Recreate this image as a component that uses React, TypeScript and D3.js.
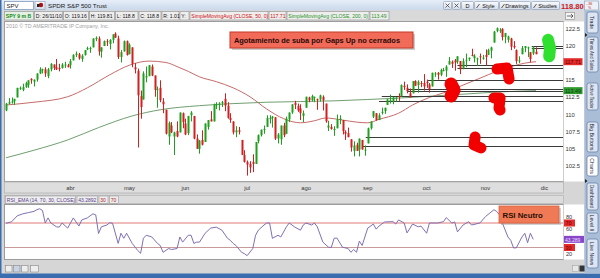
import React, { useEffect } from 'react';
import * as d3 from 'd3';

// ---------- DATA (SPY daily, Mar 1 2010 .. Nov 26 2010) ----------
const opens = [
  110.6,111.6,111.9,111.9,112.5,113.9,113.6,114.0,114.3,115.2,114.8,115.1,116.0,116.6,116.6,115.6,116.6,117.3,116.9,116.8,116.8,117.3,117.2,
  117.2,117.9,118.7,118.8,118.1,118.7,119.5,119.6,119.8,121.0,121.1,119.2,120.0,120.7,120.3,120.9,121.8,121.1,118.4,119.2,120.7,
  118.8,119.8,116.9,116.4,112.7,112.2,115.4,115.6,117.0,115.7,113.6,113.9,111.9,110.7,106.8,108.4,106.8,107.6,107.4,110.2,
  108.7,107.3,109.9,109.8,106.5,105.0,106.3,106.0,108.2,109.3,109.0,111.4,111.5,111.7,112.3,111.3,109.5,109.0,107.4,107.7,106.3,104.1,
  103.1,102.8,103.1,102.8,106.1,107.0,107.8,108.2,109.5,109.5,109.6,106.5,106.4,108.4,107.2,109.3,110.3,111.7,111.3,110.9,109.8,
  111.0,112.5,112.1,112.5,112.3,112.2,112.6,111.6,108.1,108.2,107.9,108.0,109.2,109.2,107.5,107.3,106.4,104.7,105.6,104.9,106.3,104.8,
  105.8,108.0,109.7,110.2,109.2,110.4,110.5,111.4,112.1,111.9,112.4,112.7,112.7,114.2,113.9,113.1,113.1,114.9,114.3,114.6,114.6,
  114.8,114.4,114.1,116.0,116.1,115.8,116.5,116.4,117.3,117.7,117.9,117.7,117.8,116.7,118.0,118.1,118.7,118.2,118.2,118.5,118.2,
  118.7,118.7,119.3,120.5,122.2,122.2,122.5,121.3,120.9,121.1,120.0,119.4,117.8,118.8,119.7,119.7,119.1,118.9,119.16,
];
const highs = [
  111.7,112.4,112.5,112.3,113.9,114.1,114.5,114.8,115.0,115.3,115.1,116.0,116.9,116.7,116.9,116.8,117.5,117.3,118.1,117.4,117.5,117.7,117.4,
  118.1,118.8,119.2,119.0,118.8,119.4,119.9,119.9,121.1,121.4,121.4,119.8,120.8,121.0,121.0,121.7,122.0,121.5,119.4,120.8,120.8,
  120.4,119.8,117.5,116.7,113.5,116.3,117.0,117.2,117.3,115.7,114.1,115.0,112.4,110.7,109.0,108.9,107.5,109.0,110.3,110.3,
  109.4,109.8,110.5,109.8,107.1,106.3,107.7,108.7,109.2,110.5,111.6,111.8,111.8,112.0,113.1,111.8,110.2,109.0,108.3,108.2,106.3,104.8,
  103.3,103.2,104.2,106.0,107.1,107.8,108.4,109.9,109.9,109.8,109.6,107.3,108.4,108.8,109.7,110.3,111.5,112.0,111.6,111.5,110.6,
  112.6,112.6,112.9,112.6,112.3,112.9,112.8,111.6,109.1,108.6,108.3,110.0,109.9,109.2,107.7,108.1,106.4,106.1,105.9,106.5,106.3,105.5,
  108.1,109.0,110.5,110.2,110.2,111.0,111.0,112.3,112.9,112.6,112.5,113.1,114.4,114.8,114.4,113.8,114.9,115.0,115.0,114.9,115.9,
  115.1,114.6,116.1,116.2,116.2,116.7,116.8,117.2,118.4,117.9,118.1,118.5,117.8,118.2,118.9,118.3,119.6,118.8,118.3,118.9,118.7,
  119.5,119.6,119.9,122.2,122.7,122.6,122.6,121.9,121.5,121.2,120.7,119.5,118.5,120.0,120.0,119.9,119.1,120.0,119.81,
];
const lows = [
  110.5,111.5,111.6,111.4,112.5,113.6,113.4,113.9,113.9,114.5,114.1,114.8,115.9,116.0,115.5,115.3,116.3,116.5,116.5,116.3,116.7,116.8,116.9,
  116.7,117.9,118.4,118.0,117.7,118.6,119.4,119.0,119.8,120.7,118.6,118.3,120.0,120.0,119.5,120.4,121.2,118.1,117.6,119.2,118.6,
  118.8,116.9,116.0,105.2,109.4,112.2,114.7,115.6,115.6,112.6,111.0,111.8,110.2,107.1,105.6,107.3,104.1,106.7,107.4,108.0,
  107.0,107.0,109.0,106.4,105.0,104.3,105.5,106.0,107.8,109.0,109.0,110.8,110.6,111.1,110.5,109.4,108.8,107.1,106.7,107.1,104.1,103.0,
  101.1,101.5,101.6,102.8,105.8,106.8,107.2,108.2,108.7,108.1,106.3,105.8,105.6,106.7,107.2,108.9,110.1,110.8,110.4,109.2,108.9,
  111.0,111.8,111.9,111.8,110.7,111.9,110.6,108.8,107.6,107.8,106.9,108.0,108.6,107.1,106.3,106.7,104.6,103.9,104.7,103.9,104.9,104.0,
  105.8,107.8,109.5,109.1,109.2,110.0,110.1,111.4,111.6,111.5,111.9,112.0,112.6,113.6,113.1,112.5,113.1,114.2,113.2,114.0,113.5,
  113.9,113.2,114.1,115.5,115.1,115.6,116.3,115.5,117.3,116.8,116.4,117.4,115.9,116.6,116.9,117.8,118.5,117.6,117.1,117.4,118.0,
  117.1,118.7,118.2,120.5,122.0,121.9,120.8,120.4,120.5,119.4,119.6,117.4,117.5,118.8,119.1,118.4,117.6,118.7,118.8,
];
const closes = [
  111.6,111.8,111.9,112.3,113.9,113.9,114.0,114.6,115.0,115.0,115.1,116.0,116.6,116.6,116.0,116.6,117.4,116.8,116.6,116.7,117.3,117.3,116.9,
  117.8,118.7,118.9,118.2,118.6,119.4,119.7,119.7,121.1,121.2,119.2,119.8,120.7,120.6,120.9,121.7,121.2,118.4,119.1,120.7,118.7,
  120.2,117.4,116.6,112.8,111.1,116.0,115.6,117.2,115.7,113.6,113.7,112.1,111.5,107.2,108.8,107.4,107.4,106.8,110.3,108.9,
  107.1,109.8,110.3,106.5,105.0,106.2,105.6,108.7,109.2,109.0,111.5,111.5,111.6,111.8,111.3,109.5,109.2,107.4,107.7,107.5,104.1,103.1,
  102.7,102.3,102.8,106.0,107.0,107.8,107.9,109.5,109.5,109.7,106.5,107.1,108.4,107.0,109.4,110.3,111.5,111.4,110.6,110.2,110.2,
  112.6,112.1,112.7,112.6,112.2,112.8,112.1,109.0,108.4,107.9,107.9,109.3,109.4,107.6,107.2,106.7,105.2,105.5,104.7,106.5,104.9,104.9,
  108.0,109.0,110.5,109.2,109.9,110.4,111.0,112.2,112.1,112.5,112.5,112.6,114.3,114.0,113.4,112.5,114.9,114.2,114.8,114.5,114.1,
  114.6,113.7,116.1,116.0,115.8,116.5,116.5,117.0,117.8,117.4,117.6,118.5,116.6,117.8,118.0,118.3,118.6,118.6,118.2,118.4,118.3,
  118.4,119.4,119.8,122.1,122.6,122.3,121.3,121.9,121.4,119.9,119.8,117.8,117.9,119.7,120.0,119.8,118.1,119.8,118.8,
];

const monthLabels = ['abr', 'may', 'jun', 'jul', 'ago', 'sep', 'oct', 'nov', 'dic'];
const monthStartIdx = [23, 44, 64, 86, 107, 129, 150, 171, 192];

// visible price labels (117.5 is hidden behind the SMA50 marker)
const priceTicks = [102.5, 105, 107.5, 110, 112.5, 115, 120, 122.5];
// visible RSI labels (40 is hidden behind the RSI value marker)
const rsiTicks = [80, 60, 20];

const sma50Idx = [0, 10, 22, 29, 37, 44, 51, 57, 61, 65, 69, 75, 81, 87, 93, 99, 105, 110, 114, 120, 125, 129, 133, 140, 145, 151, 157, 163, 169, 175, 181, 185, 189];
const sma50Val = [111.4, 111.8, 112.6, 113.9, 115.8, 117.2, 117.8, 117.6, 117.0, 116.3, 115.5, 114.8, 113.9, 112.6, 110.8, 109.4, 108.8, 109.1, 109.5, 109.2, 108.9, 108.8, 109.3, 110.2, 111.4, 112.5, 113.3, 114.3, 115.3, 116.3, 117.1, 117.5, 117.71];

const sma200Idx = [0, 10, 22, 33, 45, 55, 69, 81, 93, 105, 117, 129, 140, 152, 164, 176, 189];
const sma200Val = [103.7, 104.8, 106.3, 108.1, 109.8, 110.7, 111.3, 111.6, 111.8, 111.9, 112.0, 112.2, 112.4, 112.7, 113.0, 113.3, 113.49];

const rsiIdx = [0,2,4,6,8,10,11,12,13,14,15,16,18,19,20,22,23,24,26,27,29,31,32,33,34,36,37,38,40,41,42,43,45,47,48,49,50,52,54,55,56,58,59,61,62,63,65,66,67,68,69,71,73,75,77,79,80,81,82,84,85,86,88,89,90,92,93,94,95,97,98,100,101,103,105,106,107,109,110,111,113,115,116,117,118,120,122,123,124,125,126,127,129,131,132,133,135,138,139,140,142,143,145,147,148,150,151,154,156,157,159,160,161,163,165,166,169,171,174,175,176,177,179,180,181,182,184,185,186,187,188];
const rsiVal = [69.5,72,81.7,85,87,89,91.7,93.3,90.5,70,78.3,70,63.8,63.3,70,61.7,70,78.3,65,75,78.3,85,83.3,52.8,63.8,66.7,70.5,69.5,36.7,53.3,45,53.3,36.7,25,20.5,45,50,47.2,36.7,33.3,22.2,28.3,26.7,28.3,47.2,38.8,50,50,36.7,38.8,38.8,53.3,61.7,63.3,58.3,45,41.7,36.7,33.3,22.2,20,16.7,28.3,50,58.3,66.7,70,70,45,50,47.2,63.8,70,63.3,58.3,66.7,70,66.7,70,63.8,38.8,30.5,30,45,45.5,30.5,28.3,22.2,26.7,22.2,40.5,33.3,61.7,68.3,60,65,71.7,72.2,68.3,75,70,53.8,68.3,63.8,65,53.3,70,70,72.2,78.8,70,71.7,55.5,66.7,72.2,66.7,70,80.5,91.7,88.8,83.3,70,47.2,41.7,29.2,29.5,47.2,53.3,37.8,53.3,43.3];

// unfilled gap levels drawn as horizontal lines (start bar, price)
const gapStartIdx = [187.5, 187.5, 161, 161, 150.5, 143, 143, 134, 133, 128.3, 127.3];
const gapLevel = [120.05, 119.75, 117.25, 116.85, 115.05, 113.75, 113.45, 112.7, 112.0, 106.75, 105.4];

// hand drawn marks (bar index, price)
const redMarks = [
  { idx: [175.1, 178.7, 179.4], val: [116.65, 116.79, 115.19] },
  { idx: [158.7, 159.8, 158.7], val: [114.46, 113.58, 112.71] },
  { idx: [174.0, 176.2, 175.8, 176.2], val: [112.42, 112.42, 110.96, 110.67] },
  { idx: [167.3, 166.9, 169.4], val: [106.73, 105.56, 105.13] },
];
const greenMark = { idx: [193.3, 194.0, 193.7], val: [120.9, 119.7, 118.5] };

const infoItems = [
  { t: 'SPY 9 m B', c: '#138a13', w: 29, b: true },
  { t: 'D: 26/11/10', c: '#111', w: 28 },
  { t: 'O: 119.16', c: '#111', w: 25 },
  { t: 'H: 119.81', c: '#111', w: 25 },
  { t: 'L: 118.8', c: '#111', w: 22.5 },
  { t: 'C: 118.8', c: '#111', w: 22 },
  { t: 'R: 1.01', c: '#111', w: 17 },
  { t: 'Y:', c: '#111', w: 9 },
  { t: 'SimpleMovingAvg (CLOSE, 50, 0)', c: '#d01010', w: 78 },
  { t: '117.71', c: '#d01010', w: 17 },
  { t: 'SimpleMovingAvg (CLOSE, 200, 0)', c: '#1f931f', w: 82 },
  { t: '113.49', c: '#1f931f', w: 19 },
];
const rsiItems = [
  { t: 'RSI_EMA (14, 70, 30, CLOSE)', c: '#5a3c8c', w: 70 },
  { t: '43.2892', c: '#5a3c8c', w: 20.5 },
  { t: '30', c: '#b02020', w: 9 },
  { t: '70', c: '#b02020', w: 9 },
];
const tabs = [
  { label: 'Trade', y0: 12, y1: 33 },
  { label: 'Times And Sales', y0: 37, y1: 72 },
  { label: 'Active Trader', y0: 83, y1: 110 },
  { label: 'Big Buttons', y0: 122, y1: 152 },
  { label: 'Charts', y0: 156, y1: 176, active: true },
  { label: 'Dashboard', y0: 183, y1: 210 },
  { label: 'Level II', y0: 213, y1: 233 },
  { label: 'Live News', y0: 239, y1: 268 },
];
const toolButtons = [
  { t: '', x: 443, w: 8 },
  { t: '', x: 452, w: 8 },
  { t: 'D', x: 461, w: 12 },
  { t: 'Style', x: 474, w: 24 },
  { t: 'Drawings', x: 499, w: 31 },
  { t: 'Studies', x: 531, w: 28 },
];

export default function App() {
  useEffect(() => {
    document.body.style.margin = '0';
  }, []);

  const n = closes.length;
  const x = d3.scaleLinear().domain([0, n - 1]).range([6, 536]);
  const y = d3.scaleLinear().domain([102.5, 120]).range([166, 46]);
  const yr = d3.scaleLinear().domain([30, 70]).range([247.5, 223]);

  const plotL = 4, plotR = 563;
  const font = "'Liberation Sans', Arial, sans-serif";

  const smaLine = (idx: number[]) =>
    d3.line<number>().x((_, i) => x(idx[i])).y((d) => y(d)).curve(d3.curveMonotoneX);
  const sma50Path = smaLine(sma50Idx)(sma50Val) || '';
  const sma200Path = smaLine(sma200Idx)(sma200Val) || '';
  const rsiPath = d3.line<number>().x((_, i) => x(rsiIdx[i])).y((d) => yr(d))(rsiVal) || '';
  const markPath = (m: { idx: number[]; val: number[] }) =>
    d3.line<number>().x((_, i) => x(m.idx[i])).y((d) => y(d))(m.val) || '';

  let ix = 4;
  const infoBoxes = infoItems.map((it) => {
    const b = { ...it, x: ix };
    ix += it.w + 1;
    return b;
  });
  let rx = 5;
  const rsiBoxes = rsiItems.map((it) => {
    const b = { ...it, x: rx };
    rx += it.w + 1.5;
    return b;
  });

  return (
    <svg width={600} height={278} style={{ position: 'fixed', left: 0, top: 0, display: 'block' }} fontFamily={font}>
      <defs>
        <linearGradient id="topbar" x1="0" y1="0" x2="0" y2="1">
          <stop offset="0" stopColor="#e6eef8" />
          <stop offset="1" stopColor="#c9d8ea" />
        </linearGradient>
        <linearGradient id="btn" x1="0" y1="0" x2="0" y2="1">
          <stop offset="0" stopColor="#fbfcfe" />
          <stop offset="1" stopColor="#d5dce8" />
        </linearGradient>
      </defs>
      {/* background */}
      <rect x={0} y={0} width={600} height={278} fill="#d6d6d6" />
      <rect x={0} y={0} width={600} height={10.5} fill="url(#topbar)" />
      <rect x={0} y={10.5} width={584} height={11} fill="#d9d9d9" />
      <rect x={0} y={0} width={1.5} height={278} fill="#3a6db0" />
      <rect x={0} y={273.5} width={600} height={4.5} fill="#3a6db0" />

      {/* top toolbar */}
      <rect x={4.5} y={1.5} width={29} height={8} fill="#fff" stroke="#7f9db9" strokeWidth={0.8} />
      <text x={6.5} y={8} fontSize={6} fill="#222">SPV</text>
      <rect x={35} y={1.5} width={10} height={8} fill="url(#btn)" stroke="#8a98ac" strokeWidth={0.6} />
      <circle cx={41} cy={5} r={2.2} fill="#b01010" />
      <rect x={37} y={4} width={2.5} height={3} fill="#222" />
      <text x={48} y={8} fontSize={6.2} fill="#1a1a1a">SPDR S&amp;P 500 Trust</text>
      {toolButtons.map((b, i) => (
        <g key={i}>
          <rect x={b.x + 0.5} y={1.5} width={b.w} height={8} rx={1} fill="url(#btn)" stroke="#8a98ac" strokeWidth={0.6} />
          {b.t === '' ? (
            <path d={`M${b.x + 2.5},${3.5}l4,4M${b.x + 6.5},${3.5}l-4,4`} stroke="#444" strokeWidth={0.8} />
          ) : (
            <text x={b.x + b.w / 2 + 0.5 + (b.t.length > 1 ? 2 : 0)} y={7.9} fontSize={5.6} textAnchor="middle" fill="#111">{b.t}</text>
          )}
          {b.t.length > 1 && <path d={`M${b.x + 2.5},${8}l3,-4`} stroke="#333" strokeWidth={0.8} />}
        </g>
      ))}
      <text x={561} y={8.6} fontSize={7.6} fontWeight="bold" fill="#d01818">118.80</text>
      <rect x={584.5} y={1} width={14} height={9} fill="#eef2f8" stroke="#8a98ac" strokeWidth={0.6} />
      <text x={586} y={5} fontSize={3.6} fill="#c01818">-.36</text>
      <text x={588} y={9} fontSize={3.6} fill="#c01818">%</text>

      {/* info bar */}
      {infoBoxes.map((b, i) => (
        <g key={i}>
          <rect x={b.x + 0.5} y={11.5} width={b.w} height={8.5} fill={i === 0 ? '#e4f0e4' : '#eeeeee'} stroke="#9a9a9a" strokeWidth={0.7} />
          <text x={b.x + 1.8} y={18} fontSize={5.1} fill={b.c} fontWeight={b.b ? 'bold' : 'normal'}>{b.t}</text>
        </g>
      ))}
      <rect x={565.5} y={12.5} width={9} height={7} fill="#f4f4f4" stroke="#888" strokeWidth={0.6} />
      <path d="M567,16h6M571,14l2,2l-2,2" stroke="#333" strokeWidth={0.7} fill="none" />

      {/* price panel */}
      <rect x={plotL + 0.5} y={21.5} width={plotR - plotL} height={160} fill="#fff" stroke="#9c9c9c" strokeWidth={1} />
      <rect x={plotR + 0.5} y={21.5} width={20.5} height={160} fill="#fff" />
      <text x={6} y={28} fontSize={5.3} fill="#a0a0a0">2010 © TD AMERITRADE IP Company, Inc.</text>

      {/* moving averages */}
      <path d={sma200Path} fill="none" stroke="#6f9f6f" strokeWidth={1} />
      <path d={sma50Path} fill="none" stroke="#c86a6a" strokeWidth={1} />

      {/* gap lines */}
      {gapLevel.map((lv, i) => (
        <line key={i} x1={x(gapStartIdx[i])} x2={plotR} y1={Math.round(y(lv)) + 0.5} y2={Math.round(y(lv)) + 0.5} stroke="#3a3a3a" strokeWidth={1} />
      ))}

      {/* candles */}
      {closes.map((c, i) => {
        const o = opens[i];
        const up = c >= o;
        const col = up ? '#1ea01e' : '#d21f1f';
        const cx = Math.round(x(i));
        const top = y(Math.max(o, c));
        const bot = y(Math.min(o, c));
        return (
          <g key={i}>
            <line x1={cx + 0.5} x2={cx + 0.5} y1={y(highs[i])} y2={y(lows[i])} stroke={col} strokeWidth={1} />
            <rect x={cx - 0.5} y={top} width={2} height={Math.max(1, bot - top)} fill={col} />
          </g>
        );
      })}

      {/* hand-drawn marks */}
      {redMarks.map((m, i) => (
        <path key={i} d={markPath(m)} fill="none" stroke="#f20000" strokeWidth={i === 1 ? 13 : 11} strokeLinecap="round" strokeLinejoin="round" />
      ))}
      <path d={markPath(greenMark)} fill="none" stroke="#2fe02f" strokeWidth={12} strokeLinecap="round" strokeLinejoin="round" />

      {/* annotation box */}
      <rect x={232} y={34} width={183} height={16} fill="#9a9a9a" opacity={0.5} />
      <rect x={230} y={32} width={183} height={16} fill="#f26a58" stroke="#c23a28" strokeWidth={1} />
      <text x={234} y={43} fontSize={7.4} fontWeight="bold" fill="#2a0a0a" textLength={166} lengthAdjust="spacingAndGlyphs">Agotamiento de suba por Gaps Up no cerrados</text>

      {/* price axis */}
      {priceTicks.map((t) => (
        <text key={t} x={565.5} y={y(t) + 2} fontSize={5.8} fill="#333">{t}</text>
      ))}
      <rect x={563.5} y={y(117.71) - 3.5} width={19} height={7} fill="#e42a2a" />
      <text x={565} y={y(117.71) + 2.2} fontSize={5.4} fill="#6a0000">117.71</text>
      <rect x={563.5} y={y(113.49) - 3.5} width={19} height={7} fill="#2f9b2f" />
      <text x={565} y={y(113.49) + 2.2} fontSize={5.4} fill="#0d3d0d">113.49</text>

      {/* x axis strip */}
      <rect x={plotL + 0.5} y={182} width={plotR - plotL} height={11} fill="#dedede" stroke="#b0b0b0" strokeWidth={0.7} />
      {monthLabels.map((m, i) => (
        <text key={m} x={x(monthStartIdx[i])} y={190.3} fontSize={5.8} textAnchor="middle" fill="#333">{m}</text>
      ))}

      {/* RSI header */}
      <rect x={plotL + 0.5} y={195.5} width={plotR - plotL} height={8} fill="#dcdcdc" stroke="#b0b0b0" strokeWidth={0.6} />
      {rsiBoxes.map((b, i) => (
        <g key={i}>
          <rect x={b.x + 0.5} y={196} width={b.w} height={7.3} fill="#eeeeee" stroke="#9a9a9a" strokeWidth={0.6} />
          <text x={b.x + 1.8} y={201.8} fontSize={5} fill={b.c}>{b.t}</text>
        </g>
      ))}

      {/* RSI panel */}
      <rect x={plotL + 0.5} y={204.5} width={plotR - plotL} height={55} fill="#fff" stroke="#9c9c9c" strokeWidth={1} />
      <rect x={plotR + 0.5} y={204.5} width={20.5} height={55} fill="#fff" />
      <line x1={plotL + 1} x2={plotR} y1={yr(70)} y2={yr(70)} stroke="#e07a7a" strokeWidth={1} />
      <line x1={plotL + 1} x2={plotR} y1={yr(30)} y2={yr(30)} stroke="#c99a9a" strokeWidth={1} />
      <path d={rsiPath} fill="none" stroke="#8070b4" strokeWidth={1} />
      <rect x={501} y={208} width={60} height={17} fill="#9a9a9a" opacity={0.45} />
      <rect x={499} y={206} width={60} height={17} fill="#f07a55" stroke="#d8603c" strokeWidth={0.8} />
      <text x={502.5} y={217.5} fontSize={7.8} fontWeight="bold" fill="#2a1008">RSI Neutro</text>
      {rsiTicks.map((t) => (
        <text key={t} x={566} y={yr(t) + 2} fontSize={5.6} fill="#333">{t}</text>
      ))}
      <rect x={564} y={yr(70) - 3.5} width={11} height={7} fill="#e42a2a" />
      <text x={565.5} y={yr(70) + 2.2} fontSize={5.4} fill="#6a0000">70</text>
      <rect x={564} y={yr(43.29) - 3.5} width={20} height={7} fill="#8a46c8" />
      <text x={565} y={yr(43.29) + 2.2} fontSize={5} fill="#e8dcff">43.289</text>
      <rect x={564} y={yr(30) - 3.5} width={11} height={7} fill="#e42a2a" />
      <text x={565.5} y={yr(30) + 2.2} fontSize={5.4} fill="#6a0000">30</text>

      {/* bottom strip icons */}
      {[5, 13, 21, 30].map((bx, i) => (
        <rect key={i} x={bx + 0.5} y={265.5} width={i === 3 ? 8 : 6.5} height={6.5} fill={i === 1 ? '#c8d4e4' : '#eeeeee'} stroke="#888" strokeWidth={0.6} />
      ))}
      <rect x={572.5} y={265.5} width={6} height={6} fill="#e6e6e6" stroke="#999" strokeWidth={0.5} />
      <rect x={579.5} y={265.5} width={6} height={6} fill="#333" />

      {/* right tabs */}
      <rect x={584.5} y={10.5} width={15.5} height={263} fill="#aabdd6" />
      {tabs.map((tb) => {
        const cy = (tb.y0 + tb.y1) / 2;
        return (
          <g key={tb.label}>
            <rect x={587} y={tb.y0} width={11} height={tb.y1 - tb.y0} rx={2} fill={tb.active ? '#ffffff' : '#dce5f1'} stroke="#5f7aa0" strokeWidth={0.7} />
            <text transform={`translate(${590.3},${cy}) rotate(90)`} fontSize={5.3} textAnchor="middle" fill="#1e2a3a" textLength={Math.min(tb.y1 - tb.y0 - 3, tb.label.length * 2.6)} lengthAdjust="spacingAndGlyphs">{tb.label}</text>
          </g>
        );
      })}
      <path d="M585,33l2.5,2l-2.5,2z M585,179l2.5,2l-2.5,2z" fill="#222" />
    </svg>
  );
}
